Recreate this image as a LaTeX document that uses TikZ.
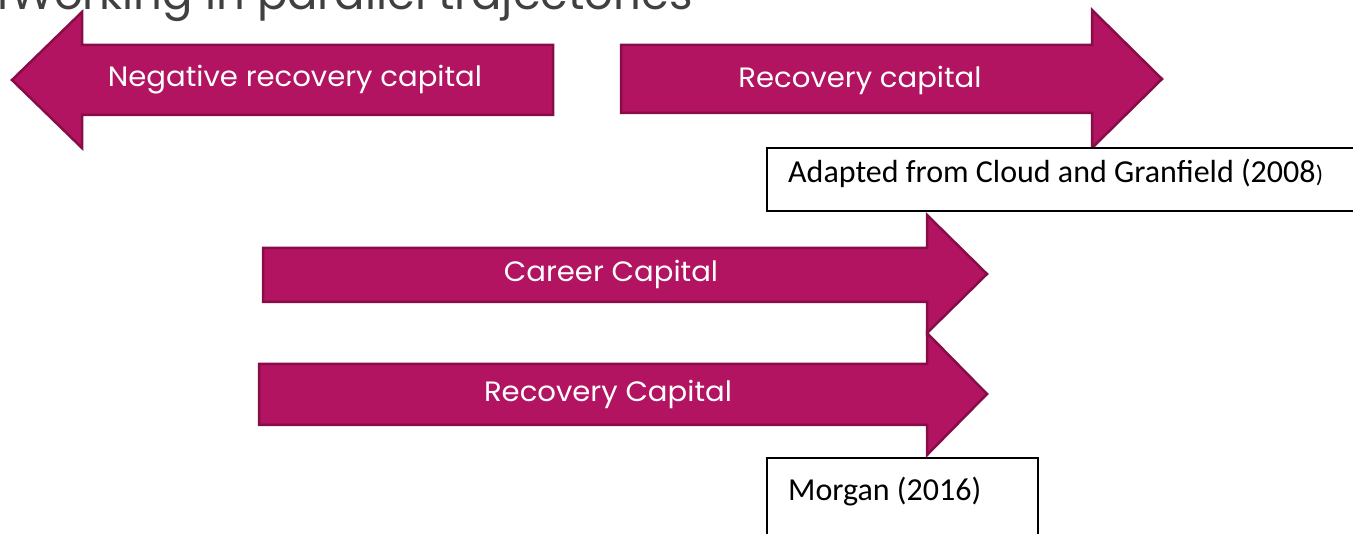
\documentclass[tikz,border=0pt]{standalone}
\usepackage{fontspec}
\newfontfamily\pop{Poppins}
\newfontfamily\popw{Poppins}[FakeStretch=1.04]
\newfontfamily\carl{Carlito}
\definecolor{arrfill}{RGB}{178,20,98}
\definecolor{arrline}{RGB}{135,12,72}
\definecolor{titlegray}{RGB}{64,64,64}
\begin{document}
\begin{tikzpicture}[x=1pt,y=-1pt,
  arrowshape/.style={fill=arrfill,draw=arrline,line width=2.5pt,line join=miter},
  arrlabel/.style={text=white,font=\popw\fontsize{28}{32}\selectfont,inner sep=0pt},
  refbox/.style={draw=black,line width=1.3pt,fill=white},
  reftext/.style={anchor=west,text=black,font=\carl\fontsize{32}{38}\selectfont,inner sep=0pt}]
\useasboundingbox (0,0) rectangle (1353,534);
\clip (0,0) rectangle (1353,534);
% title (cut off at the top)
\node[anchor=base west,text=titlegray,font=\pop\fontsize{45}{50}\selectfont,inner sep=0pt] (title) at (-3,10) {l\hspace{2pt}Working in parallel trajectories};
% negative recovery capital (left arrow)
\draw[arrowshape] (553,45) -- (82,45) -- (82,12) -- (12,80) -- (82,148) -- (82,115) -- (553,115) -- cycle;
\node[arrlabel] (neg) at (295,80) {Negative recovery capital};
% recovery capital (right arrow)
\draw[arrowshape] (621,45) -- (1092,45) -- (1092,10) -- (1162,79) -- (1092,148) -- (1092,113) -- (621,113) -- cycle;
\node[arrlabel] (rec) at (860,80) {Recovery capital};
% career capital
\draw[arrowshape] (263,248) -- (927,248) -- (927,215) -- (987,274) -- (927,333) -- (927,302) -- (263,302) -- cycle;
\node[arrlabel] (career) at (611,274) {Career Capital};
% recovery capital (second)
\draw[arrowshape] (259,364) -- (927,364) -- (927,333) -- (987,394) -- (927,455) -- (927,425) -- (259,425) -- cycle;
\node[arrlabel] (rec2) at (608,394) {Recovery Capital};
% reference boxes
\draw[refbox] (767,148) rectangle (1360,211);
\node[reftext] (ref1) at (788,173) {Adapted from Cloud and Granfield (2008{\fontsize{24}{28}\selectfont)}};
\draw[refbox] (767,458) rectangle (1038,540);
\node[reftext] (ref2) at (788,492) {Morgan (2016)};
\end{tikzpicture}
\end{document}
